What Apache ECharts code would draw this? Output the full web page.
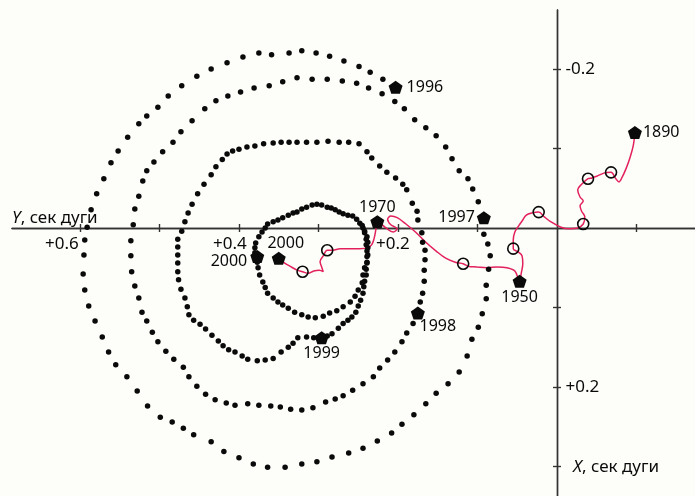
<!DOCTYPE html>
<html>
<head>
<meta charset="utf-8">
<script src="https://cdn.jsdelivr.net/npm/echarts@6/dist/echarts.min.js"></script>
<style>
  html, body { margin: 0; padding: 0; background: #fdfdf9; }
  #chart { width: 695px; height: 496px; }
</style>
</head>
<body>
<div id="chart"></div>
<script>
// Pole coordinates, milliarcseconds, as [Y, X] pairs.
// Pole track sampled every few days, one array per year.
const track1996 = [
  [219,-187],[235,-196],[249,-203],[268,-210],[286,-216],[303,-220],[321,-223],[337,-220],[359,-218],[375,-220],
  [395,-215],[415,-208],[435,-200],[453,-191],[472,-179],[489,-166],[502,-152],[516,-141],[526,-131],[540,-114],
  [552,-97],[561,-82],[570,-62],[579,-43],[586,-23],[591,-1],[594,15],[595,34],[596,58],[594,78],
  [589,98],[581,117],[572,137],[564,156],[555,172],[541,187],[528,205],[515,224],[499,238],[484,244],
  [470,252],[457,260],[435,269],[419,281],[400,289],[382,297],[364,301],[342,301],[321,297],[302,294],
  [283,288],[262,283],[244,277],[226,268],[208,258],[195,247],[180,235],[165,221],[152,208],[137,196],
  [123,181],[113,161],[107,140],[99,125],[94,108],[89,89],[89,72],[86,52],[84,35],[87,20],[92,8]
];
const track1997 = [
  [99,-33],[106,-49],[112,-62],[123,-72],[132,-87],[140,-102],[152,-116],[165,-126],[179,-136],[192,-150],
  [204,-159],[220,-169],[237,-176],[252,-182],[270,-185],[289,-187],[308,-187],[327,-189],[345,-184],[362,-179],
  [381,-176],[398,-171],[414,-166],[429,-160],[443,-150],[459,-135],[473,-121],[483,-108],[496,-96],[507,-83],
  [516,-72],[521,-59],[526,-40],[531,-24],[533,-4],[536,16],[536,35],[535,55],[531,73],[526,88],
  [522,106],[516,117],[509,131],[502,143],[492,155],[482,165],[470,175],[463,187],[453,199],[442,209],
  [430,216],[416,220],[405,223],[389,221],[375,223],[360,224],[348,225],[335,228],[321,229],[307,226],
  [291,219],[279,215],[269,211],[257,204],[244,196],[231,187],[223,176],[213,166],[204,156],[195,143],
  [189,132],[181,120]
];
const track1998 = [
  [172,93],[169,82],[167,67],[167,53],[166,40],[166,28],[169,18],[170,6],[175,-10],[176,-21],
  [182,-31],[189,-48],[194,-55],[203,-63],[214,-70],[223,-78],[233,-88],[239,-96],[249,-106],[262,-108],
  [274,-108],[288,-109],[302,-108],[315,-108],[327,-108],[337,-108],[347,-108],[357,-107],[369,-106],[380,-103],
  [390,-102],[400,-99],[408,-97],[415,-93],[421,-86],[429,-77],[435,-67],[444,-55],[452,-43],[459,-30],
  [464,-19],[468,-8],[472,4],[477,14],[477,24],[477,34],[477,44],[477,55],[476,65],[473,77],
  [468,88],[465,99],[463,109],[457,116],[449,121],[442,127],[434,135],[426,142],[420,148],[413,153],
  [405,156],[396,161],[389,165],[377,167],[367,166],[357,164],[347,156],[338,150],[332,145],[326,138],
  [315,137],[306,138]
];
const track1999 = [
  [289,136],[283,133],[275,126],[269,120],[263,116],[258,112],[253,106],[250,98],[247,91],[244,82],
  [243,74],[242,67],[240,59],[240,52],[239,44],[239,36],[239,29],[240,21],[240,14],[242,6],
  [244,0],[248,-6],[252,-11],[257,-15],[263,-16],[269,-18],[274,-20],[279,-23],[284,-25],[289,-26],
  [296,-29],[302,-30],[308,-29],[315,-26],[321,-24],[327,-20],[332,-19],[338,-16],[345,-13],[351,-10],
  [357,-8],[364,-5],[367,0],[371,5],[375,11],[379,19],[380,25],[380,31],
  [377,43],[376,50],[374,59],[370,68],[367,75],[364,82],[357,88],[351,93],[345,97],[338,101],
  [330,106],[321,109],[313,112],[304,113],[294,111],[286,107],[277,104],[269,99],[260,93],[254,86],
  [250,78],[245,69],[244,59],[242,50],[239,43],[238,34],[238,25],[238,18],[239,11],[242,4],[245,-3]
];

// Start-of-year positions on the track
const trackYears = ['1996', '1997', '1998', '1999', '2000'];
const trackYearPos = [[203,-177],[92,-13],[175,107],[296,138],[377,36]];

// Secular drift of the mean pole, 1890–2000
const driftPath = [
  [-98,-120],[-96,-104],[-92,-89],[-87,-75],[-82,-64],[-78,-58],[-74,-62],[-68,-70],[-59,-69],[-50,-65],
  [-44,-63],[-39,-62],[-31,-55],[-26,-48],[-29,-39],[-33,-34],[-29,-28],[-31,-21],[-35,-14],[-33,-5],
  [-26,0],[-16,1],[-5,-1],[8,-8],[16,-14],[23,-20],[31,-19],[39,-16],[43,-10],[48,-3],
  [53,5],[55,15],[55,26],[49,30],[44,35],[43,45],[45,57],[47,67],[53,54],[63,50],
  [75,49],[88,50],[101,49],[112,48],[118,45],[128,43],[140,38],[152,29],[165,18],[177,6],
  [190,-5],[201,-13],[209,-15],[213,-11],[209,-4],[201,1],[206,5],[215,0],[221,-5],[226,-8],
  [228,3],[230,13],[233,21],[238,25],[248,26],[260,26],[273,26],[282,28],[289,28],[294,35],
  [298,42],[296,49],[294,55],[299,53],[306,54],[313,57],[320,55],[327,53],[336,48],[343,44],[350,38]
];
// Decade points 1900, 1910, 1920, 1930, 1940, 1960, 1980, 1990
const decadePos = [[-68,-70],[-39,-62],[-33,-5],[23,-20],[55,26],[118,45],[289,28],[320,55]];
const driftYears = ['1890', '1950', '1970', '2000'];
const driftYearPos = [[-98,-120],[47,67],[226,-8],[350,38]];

// Axis ticks, arcseconds
const yTicks = [-0.1, 0.1, 0.2, 0.3, 0.4, 0.5, 0.6];
const yTickLabels = [0.2, 0.4, 0.6];
const xTicks = [-0.2, -0.1, 0.1, 0.2, 0.3];
const xTickLabels = [-0.2, 0.2];

const FONT = '"Noto Sans", "DejaVu Sans", sans-serif';
const INK = '#0a0a0a';
const AXIS = '#333333';
const RED = '#e3215c';
const CLEAR = 'rgba(0,0,0,0)';
const PENTAGON = 'path://M0,-10L9.511,-3.09L5.878,8.09L-5.878,8.09L-9.511,-3.09Z';

const toArcsec = pts => pts.map(p => [p[0] / 1000, p[1] / 1000]);
const signed = v => (v > 0 ? '+' : '-') + Math.abs(v).toFixed(1);

const trackLabelStyle = [
  { position: 'right', distance: 4 },
  { position: 'left', distance: 2 },
  { position: 'bottom', distance: 0, offset: [20, -1] },
  { position: 'bottom', distance: 1 },
  { position: 'left', distance: 3, offset: [0, 5] }
];
const driftLabelStyle = [
  { position: 'right', distance: 1 },
  { position: 'bottom', distance: 2 },
  { position: 'top', distance: 0 },
  { position: 'top', distance: 0, offset: [7, 0] }
];
// Horizontal shift of the Y tick labels, px (they sit left of their ticks)
const yLabelShift = [-5, -9, -18];

function yearMarks(years, pos, styles) {
  return years.map((yr, i) => ({
    value: [pos[i][0] / 1000, pos[i][1] / 1000],
    label: Object.assign({
      show: true, formatter: yr, fontSize: 16, fontFamily: FONT, color: INK
    }, styles[i])
  }));
}

const tickText = { show: true, fontSize: 17, fontFamily: FONT, color: INK };
const yTickLabelData = yTickLabels.map((v, i) => ({
  value: [v, 0],
  label: Object.assign({ position: 'bottom', distance: 7, offset: [yLabelShift[i], 0], formatter: signed(v) }, tickText)
}));
const xTickLabelData = xTickLabels.map(v => ({
  value: [0, v],
  label: Object.assign({ position: 'right', distance: 8, formatter: signed(v) }, tickText)
}));

const Y_RANGE = { min: -0.1736, max: 0.6855 };
const X_RANGE = { min: -0.2742, max: 0.3371 };

// Two axes per direction, both pinned to zero, so the ticks cross the line.
function hAxis(position) {
  return {
    type: 'value', position, inverse: true, min: Y_RANGE.min, max: Y_RANGE.max,
    axisLine: { show: true, onZero: true, onZeroAxisIndex: 0, lineStyle: { color: AXIS, width: 1.4 } },
    axisTick: { show: true, length: 4, customValues: yTicks, lineStyle: { color: AXIS, width: 1.4 } },
    axisLabel: { show: false },
    splitLine: { show: false }
  };
}
function vAxis(position) {
  return {
    type: 'value', position, inverse: true, min: X_RANGE.min, max: X_RANGE.max,
    axisLine: { show: true, onZero: true, onZeroAxisIndex: 0, lineStyle: { color: AXIS, width: 1.4 } },
    axisTick: { show: true, length: 4, customValues: xTicks, lineStyle: { color: AXIS, width: 1.4 } },
    axisLabel: { show: false },
    splitLine: { show: false }
  };
}

const chart = echarts.init(document.getElementById('chart'), null, { renderer: 'canvas' });
chart.setOption({
  animation: false,
  backgroundColor: '#fdfdf9',
  grid: { left: 12, right: 0, top: 10, bottom: 0, containLabel: false, outerBoundsMode: 'none' },
  xAxis: [hAxis('bottom'), hAxis('top')],
  yAxis: [vAxis('right'), vAxis('left')],
  graphic: [
    {
      type: 'text', x: 12, y: 218,
      style: {
        text: '{i|Y}{n|, сек дуги}', verticalAlign: 'middle',
        rich: {
          i: { fontStyle: 'italic', fontSize: 17, fontFamily: FONT, fill: INK },
          n: { fontSize: 17, fontFamily: FONT, fill: INK }
        }
      }
    },
    {
      type: 'text', x: 573, y: 467,
      style: {
        text: '{i|X}{n|, сек дуги}', verticalAlign: 'middle',
        rich: {
          i: { fontStyle: 'italic', fontSize: 17, fontFamily: FONT, fill: INK },
          n: { fontSize: 17, fontFamily: FONT, fill: INK }
        }
      }
    }
  ],
  series: [
    {
      type: 'scatter', name: 'tick labels', silent: true, z: 1,
      data: yTickLabelData.concat(xTickLabelData),
      symbol: 'circle', symbolSize: 1, itemStyle: { color: CLEAR, opacity: 1 }
    },
    {
      type: 'line', name: 'drift', data: toArcsec(driftPath),
      smooth: 0.35, showSymbol: false, silent: true, z: 2,
      lineStyle: { color: RED, width: 1.5 }
    },
    {
      type: 'scatter', name: 'track', silent: true, z: 3,
      data: toArcsec([].concat(track1996, track1997, track1998, track1999)),
      symbol: 'circle', symbolSize: 5.5, itemStyle: { color: INK, opacity: 1 }
    },
    {
      type: 'scatter', name: 'decades', silent: true, z: 4,
      data: toArcsec(decadePos), symbol: 'circle', symbolSize: 11,
      itemStyle: { color: CLEAR, borderColor: INK, borderWidth: 1.6, opacity: 1 }
    },
    {
      type: 'scatter', name: 'years', silent: true, z: 5,
      data: yearMarks(trackYears, trackYearPos, trackLabelStyle)
        .concat(yearMarks(driftYears, driftYearPos, driftLabelStyle)),
      symbol: PENTAGON, symbolSize: [14, 13], itemStyle: { color: INK, opacity: 1 }
    }
  ]
});
</script>
</body>
</html>
